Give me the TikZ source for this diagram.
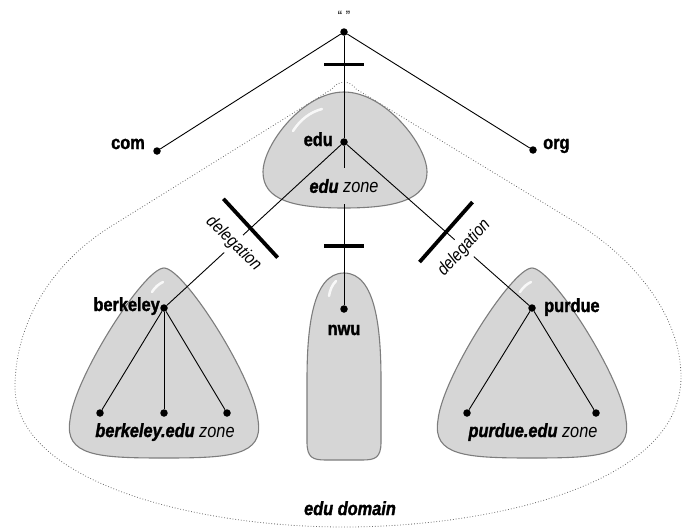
\documentclass[tikz,border=0pt]{standalone}
\usepackage{fontspec}
\setmainfont{Liberation Sans}[FakeStretch=0.86,BoldFeatures={FakeBold=1.6},BoldItalicFeatures={FakeBold=1.6}]
\definecolor{zonefill}{RGB}{214,214,214}
\definecolor{zoneedge}{RGB}{125,125,125}
\definecolor{domainedge}{RGB}{105,105,105}
\tikzset{
dot/.style={circle,fill=black,inner sep=0pt,minimum size=7.5pt},
lbl/.style={inner sep=0pt,font=\fontsize{19}{22}\selectfont\bfseries},
zonelbl/.style={inner sep=0pt,font=\fontsize{19}{22}\selectfont\itshape},
zone/.style={fill=zonefill,draw=zoneedge,line width=1.1pt},
shine/.style={white,line width=2.5pt,line cap=round,opacity=.85},
link/.style={line width=.9pt},
cut/.style={rectangle,fill=black,inner sep=0pt,minimum width=3.8pt,sloped},
deleg/.style={fill=white,inner xsep=1pt,inner ysep=4.5pt,font=\fontsize{17.5}{20}\selectfont\itshape}
}
\begin{document}
\begin{tikzpicture}[x=1pt,y=-1pt]
\useasboundingbox(0,0)rectangle(685,530);
% edu domain
\draw[domainedge,dotted,line width=.8pt](110,227)..controls(45,268)and(15,330)..(15,387)
 ..controls(15,480)and(190,527)..(344,527)..controls(490,527)and(681,485)..(681,377)
 ..controls(681,320)and(640,262)..(575,222)--(356,89)..controls(350,80)and(338,80)..(332,89)--cycle;
% edu zone
\draw[zone](344,92)..controls(385,92)and(427,145)..(427,172)..controls(427,200)and(395,208)..(344,208)
 ..controls(293,208)and(263,200)..(263,172)..controls(263,145)and(303,92)..(344,92)--cycle;
\draw[shine](293,131)..controls(300,120)and(310,112)..(322,109);
% nwu zone
\draw[zone](344,273)..controls(376,273)and(381,330)..(381,380)--(381,442)..controls(381,458)and(375,460)..(362,460)
 --(326,460)..controls(313,460)and(307,458)..(307,442)--(307,380)..controls(307,330)and(312,273)..(344,273)--cycle;
\draw[shine](329,296)..controls(330,290)and(332,285)..(336,281);
% berkeley.edu zone
\begin{scope}[shift={(164,308)}]
\draw[zone](0,-40)..controls(20,-40)and(90,70)..(94,112)..controls(100,148)and(66,150)..(0,150)
 ..controls(-66,150)and(-100,148)..(-94,112)..controls(-90,70)and(-20,-40)..(0,-40)--cycle;
\draw[shine](-12,-16)..controls(-9,-21)and(-5,-24)..(-1,-26);
\node[dot](berkeley)at(0,0){};
\node[lbl,anchor=base east](berkeleylbl)at(-4,3){berkeley};
\node[dot](berkeleyA)at(-64,105){};
\node[dot](berkeleyB)at(0,105){};
\node[dot](berkeleyC)at(63,105){};
\foreach \c in {berkeleyA,berkeleyB,berkeleyC}
 \draw[link](berkeley)--(\c);
\node[zonelbl,anchor=base](berkeleyzone)at(1,129){\textbf{berkeley.edu} zone};
\end{scope}
% purdue.edu zone
\begin{scope}[shift={(532,308)}]
\draw[zone](0,-40)..controls(20,-40)and(90,70)..(94,112)..controls(100,148)and(66,150)..(0,150)
 ..controls(-66,150)and(-100,148)..(-94,112)..controls(-90,70)and(-20,-40)..(0,-40)--cycle;
\draw[shine](-12,-16)..controls(-9,-21)and(-5,-24)..(-1,-26);
\node[dot](purdue)at(0,0){};
\node[lbl,anchor=base west](purduelbl)at(12,4){purdue};
\node[dot](purdueA)at(-65,105){};
\node[dot](purdueB)at(64,105){};
\foreach \c in {purdueA,purdueB}
 \draw[link](purdue)--(\c);
\node[zonelbl,anchor=base](purduezone)at(1,129){\textbf{purdue.edu} zone};
\end{scope}
% top of the tree
\node[dot](root)at(344,32){};
\node[inner sep=0pt,font=\fontsize{15}{18}\selectfont](rootlbl)at(344,16){“ ”};
\node[dot](com)at(157,151){};
\node[lbl,anchor=base east](comlbl)at(145,149){com};
\node[dot](org)at(533,150){};
\node[lbl,anchor=base west](orglbl)at(543,149){org};
\node[dot](edu)at(344,142){};
\node[lbl,anchor=base east](edulbl)at(333,146){edu};
\node[zonelbl,inner ysep=11pt](eduzone)at(344,186){\textbf{edu} zone};
\node[dot](nwu)at(344,309){};
\node[lbl,anchor=base](nwulbl)at(344,335){nwu};
\node[lbl,anchor=base](domainlbl)at(350,515){\itshape edu domain};
\draw[link](root)--(com);
\draw[link](root)--(org);
\draw[link](root)--(edu);
\draw[link](edu)--(eduzone);
\draw[link](eduzone)--(nwu);
\draw[link](edu)--(berkeley);
\draw[link](edu)--(purdue);
% delegations
\path(edu)--(berkeley)node[deleg,pos=.617,rotate=-44](delegberkeley){delegation};
\path(edu)--(purdue)node[deleg,pos=.644,rotate=48](delegpurdue){delegation};
\path(root)--(edu)node[cut,pos=.28,minimum height=40pt](cutedu){};
\path(edu)--(nwu)node[cut,pos=.63,minimum height=40pt](cutnwu){};
\path(edu)--(berkeley)node[cut,pos=.52,minimum height=80pt](cutberkeley){};
\path(edu)--(purdue)node[cut,pos=.544,minimum height=80pt](cutpurdue){};
\end{tikzpicture}
\end{document}
